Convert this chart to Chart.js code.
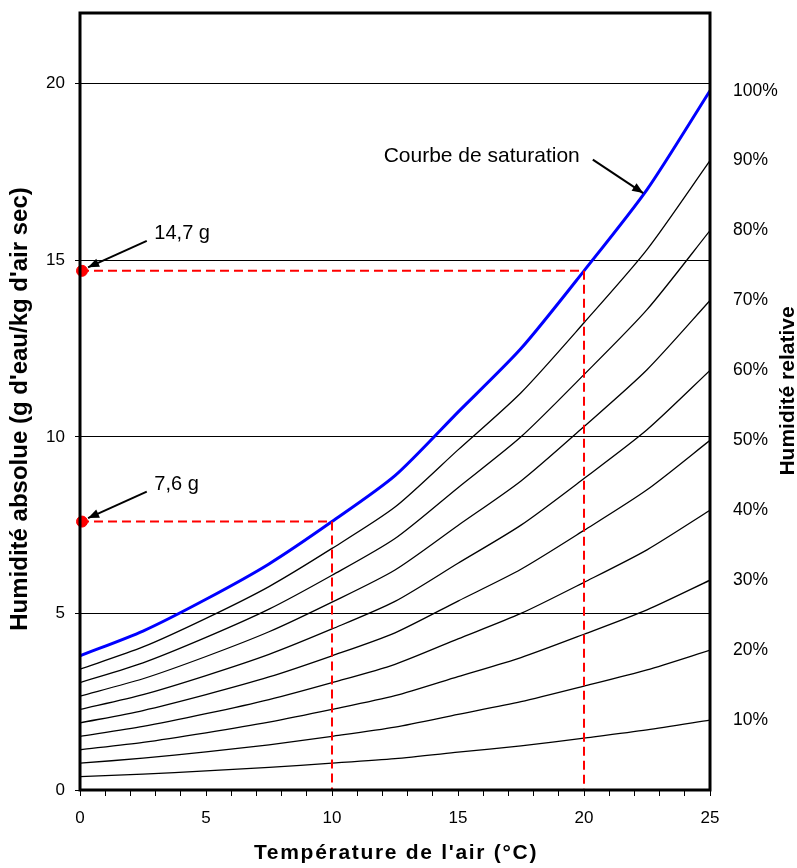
<!DOCTYPE html>
<html>
<head>
<meta charset="utf-8">
<script src="https://cdn.jsdelivr.net/npm/chart.js@4.4.1/dist/chart.umd.min.js"></script>
<style>
    html, body { margin: 0; padding: 0; background: #fff; }
    #wrap { width: 797px; height: 868px; }
</style>
</head>
<body>
<div id="wrap"><canvas id="humChart" width="797" height="868"></canvas></div>
<script>
// Temperatures (°C)
const temps = [0, 2.5, 5, 7.5, 10, 12.5, 15, 17.5, 20, 22.5, 25];

// Absolute humidity (g/kg) - saturation curve and relative humidity curves
const sat100 = [3.8, 4.5, 5.4, 6.4, 7.6, 8.9, 10.7, 12.5, 14.7, 17.0, 19.8];
const rh90 = [3.42, 4.05, 4.86, 5.76, 6.84, 8.01, 9.63, 11.25, 13.23, 15.3, 17.82];
const rh80 = [3.04, 3.6, 4.32, 5.12, 6.08, 7.12, 8.56, 10.0, 11.76, 13.6, 15.84];
const rh70 = [2.66, 3.15, 3.78, 4.48, 5.32, 6.23, 7.49, 8.75, 10.29, 11.9, 13.86];
const rh60 = [2.28, 2.7, 3.24, 3.84, 4.56, 5.34, 6.42, 7.5, 8.82, 10.2, 11.88];
const rh50 = [1.9, 2.25, 2.7, 3.2, 3.8, 4.45, 5.35, 6.25, 7.35, 8.5, 9.9];
const rh40 = [1.52, 1.8, 2.16, 2.56, 3.04, 3.56, 4.28, 5.0, 5.88, 6.8, 7.92];
const rh30 = [1.14, 1.35, 1.62, 1.92, 2.28, 2.67, 3.21, 3.75, 4.41, 5.1, 5.94];
const rh20 = [0.76, 0.9, 1.08, 1.28, 1.52, 1.78, 2.14, 2.5, 2.94, 3.4, 3.96];
const rh10 = [0.38, 0.45, 0.54, 0.64, 0.76, 0.89, 1.07, 1.25, 1.47, 1.7, 1.98];

// Left axis ticks
const yTickValues = [0, 5, 10, 15, 20];

// Right axis: relative humidity labels at the curve ends
const rhTickValues = [1.98, 3.96, 5.94, 7.92, 9.9, 11.88, 13.86, 15.84, 17.82, 19.8];
const rhTickLabels = ['10%', '20%', '30%', '40%', '50%', '60%', '70%', '80%', '90%', '100%'];

// Reading examples: temperature -> absolute humidity
const exampleTemps = [10, 20];
const exampleHum = [7.6, 14.7];
const exampleLabels = ['7,6 g', '14,7 g'];

const FONT = "'Liberation Sans', Arial, sans-serif";

function toPoints(xs, ys) {
    return xs.map((x, i) => ({ x: x, y: ys[i] }));
}

function curve(values, color, width) {
    return {
        data: toPoints(temps, values),
        borderColor: color,
        borderWidth: width,
        pointRadius: 0,
        fill: false,
        tension: 0.25
    };
}

const rhCurves = [rh90, rh80, rh70, rh60, rh50, rh40, rh30, rh20, rh10];

const datasets = [];

// Dashed reading lines
exampleTemps.forEach((t, i) => {
    datasets.push({
        data: [{ x: 0, y: exampleHum[i] }, { x: t, y: exampleHum[i] }, { x: t, y: 0 }],
        borderColor: '#ff0000',
        borderWidth: 2,
        borderDash: [9, 5],
        pointRadius: 0,
        tension: 0,
        fill: false
    });
});

rhCurves.forEach(v => datasets.push(curve(v, '#000000', 1.3)));
datasets.push(curve(sat100, '#0000ff', 3));

// Red dots on the y axis
datasets.push({
    type: 'scatter',
    data: exampleHum.map(h => ({ x: 0.08, y: h })),
    backgroundColor: '#ff0000',
    borderColor: '#ff0000',
    pointRadius: 5.5,
    clip: false
});

function arrow(ctx, x1, y1, x2, y2) {
    ctx.beginPath();
    ctx.moveTo(x1, y1);
    ctx.lineTo(x2, y2);
    ctx.stroke();
    const a = Math.atan2(y2 - y1, x2 - x1);
    const len = 11, w = 4.5;
    ctx.beginPath();
    ctx.moveTo(x2, y2);
    ctx.lineTo(x2 - len * Math.cos(a) + w * Math.sin(a), y2 - len * Math.sin(a) - w * Math.cos(a));
    ctx.lineTo(x2 - len * Math.cos(a) - w * Math.sin(a), y2 - len * Math.sin(a) + w * Math.cos(a));
    ctx.closePath();
    ctx.fill();
}

function rotatedText(ctx, text, x, y) {
    ctx.save();
    ctx.translate(x, y);
    ctx.rotate(-Math.PI / 2);
    ctx.fillText(text, 0, 0);
    ctx.restore();
}

// Frame, annotations and axis titles
const extrasPlugin = {
    id: 'extras',
    afterDatasetsDraw(chart) {
        const ctx = chart.ctx;
        const xs = chart.scales.x, ys = chart.scales.y;
        const px = v => xs.getPixelForValue(v);
        const py = v => ys.getPixelForValue(v);
        const area = chart.chartArea;

        ctx.save();
        ctx.strokeStyle = '#000';
        ctx.lineWidth = 3;
        ctx.strokeRect(area.left, area.top, area.right - area.left, area.bottom - area.top);

        ctx.fillStyle = '#000';
        ctx.lineWidth = 2;
        ctx.textBaseline = 'middle';
        ctx.textAlign = 'left';

        // value labels with arrows
        ctx.font = '20px ' + FONT;
        exampleHum.forEach((h, i) => {
            ctx.fillText(exampleLabels[i], px(2.95), py(h + 1.05));
            arrow(ctx, px(2.65), py(h + 0.85), px(0.32), py(h + 0.1));
        });

        // saturation curve label
        ctx.font = '21px ' + FONT;
        ctx.fillText('Courbe de saturation', px(12.05), py(17.95));
        arrow(ctx, px(20.35), py(17.85), px(22.35), py(16.9));

        // axis titles
        ctx.textAlign = 'center';
        ctx.font = 'bold 21px ' + FONT;
        ctx.letterSpacing = '1.7px';
        ctx.fillText("Température de l'air (°C)", (area.left + area.right) / 2 + 1, 853);
        ctx.letterSpacing = '0px';
        ctx.font = 'bold 24px ' + FONT;
        rotatedText(ctx, "Humidité absolue (g d'eau/kg d'air sec)", 20, 409);
        ctx.font = 'bold 21px ' + FONT;
        rotatedText(ctx, 'Humidité relative', 788, 391);
        ctx.restore();
    }
};

function noVerticalPadding(scale) {
    scale.paddingTop = 0;
    scale.paddingBottom = 0;
}

const ctx1 = document.getElementById('humChart').getContext('2d');
const humChart = new Chart(ctx1, {
    type: 'line',
    data: { datasets: datasets },
    options: {
        responsive: false,
        animation: false,
        layout: { padding: { top: 13, left: 0, right: 0, bottom: 0 } },
        plugins: {
            legend: { display: false },
            tooltip: { enabled: false }
        },
        scales: {
            x: {
                type: 'linear',
                min: 0,
                max: 25,
                border: { display: false },
                grid: {
                    drawOnChartArea: false,
                    color: '#000',
                    tickLength: 6,
                    lineWidth: 1
                },
                ticks: {
                    stepSize: 1,
                    autoSkip: false,
                    maxRotation: 0,
                    padding: 12,
                    color: '#000',
                    font: { family: FONT, size: 17 },
                    callback: v => (v % 5 === 0 ? String(v) : '')
                },
                afterFit(scale) {
                    scale.height = 78;
                    scale.paddingLeft = 0;
                    scale.paddingRight = 0;
                }
            },
            y: {
                position: 'left',
                min: 0,
                max: 22,
                border: { display: false },
                grid: {
                    color: ctx => (ctx.tick && ctx.tick.value === 0 ? 'rgba(0,0,0,0)' : '#000'),
                    tickColor: '#000',
                    tickLength: 5,
                    lineWidth: 1
                },
                afterBuildTicks(scale) {
                    scale.ticks = yTickValues.map(v => ({ value: v }));
                },
                ticks: {
                    padding: 10,
                    color: '#000',
                    font: { family: FONT, size: 17 }
                },
                afterFit(scale) {
                    scale.width = 80;
                    noVerticalPadding(scale);
                }
            },
            y2: {
                position: 'right',
                min: 0,
                max: 22,
                border: { display: false },
                grid: { display: false },
                afterBuildTicks(scale) {
                    scale.ticks = rhTickValues.map(v => ({ value: v }));
                },
                ticks: {
                    padding: 15,
                    color: '#000',
                    font: { family: FONT, size: 17.5 },
                    callback: (v, i) => rhTickLabels[i]
                },
                afterFit(scale) {
                    scale.width = 87;
                    noVerticalPadding(scale);
                }
            }
        }
    },
    plugins: [extrasPlugin]
});
</script>
</body>
</html>
